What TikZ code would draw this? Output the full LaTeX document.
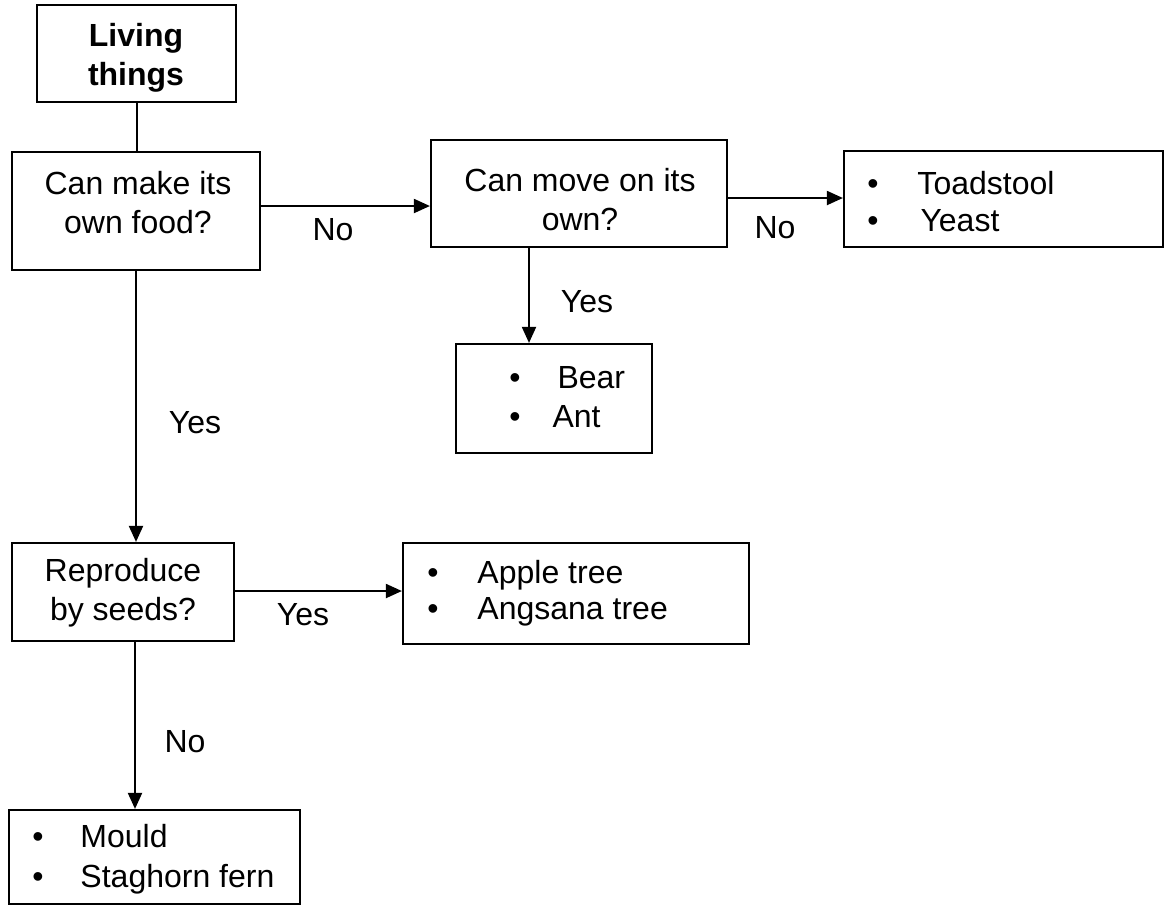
\documentclass[tikz,border=0pt]{standalone}
\usepackage{fontspec}
\setmainfont{Liberation Sans}
\usetikzlibrary{arrows.meta}
\newcommand\fsz[1]{\fontsize{16pt}{#1}\selectfont}
\begin{document}
\begin{tikzpicture}[x=0.5pt,y=-0.5pt,
  boxnode/.style={draw, line width=1.1pt, inner sep=0pt, rectangle},
  qtext/.style={align=center, inner sep=0pt, font=\fsz{19.5pt}},
  listtxt/.style={align=left, inner sep=0pt, anchor=west},
  lbl/.style={inner sep=0pt, font=\fsz{19.5pt}},
  conn/.style={line width=1pt},
  arr/.style={line width=1pt, -{Triangle[length=8pt,width=7pt]}}
]
\useasboundingbox (0,0) rectangle (1170,907);
\fill[white] (0,0) rectangle (1170,907);

% boxes
\node[boxnode, minimum width=99.5pt, minimum height=48.5pt] (living) at (136.5,53.5) {};
\node[boxnode, minimum width=124pt, minimum height=59pt] (food) at (136,211) {};
\node[boxnode, minimum width=148pt, minimum height=53.5pt] (move) at (579,193.5) {};
\node[boxnode, minimum width=159.5pt, minimum height=48pt] (toad) at (1003.5,199) {};
\node[boxnode, minimum width=98pt, minimum height=54.5pt] (bear) at (554,398.5) {};
\node[boxnode, minimum width=111pt, minimum height=49pt] (repro) at (123,592) {};
\node[boxnode, minimum width=173pt, minimum height=50.5pt] (apple) at (576,593.5) {};
\node[boxnode, minimum width=145.5pt, minimum height=47pt] (mould) at (154.5,857) {};

% question texts
\node[qtext] (livingT) at (136,57.5) {\bfseries Living\\\bfseries things};
\node[qtext] (foodT) at (138,203) {Can make its\\own food?};
\node[qtext] (moveT) at (580,200) {Can move on its\\own?};
\node[qtext] (reproT) at (123,593) {Reproduce\\by seeds?};

% lists
\node[listtxt, font=\fsz{18.5pt}] (toadL) at ([yshift=-1.25pt]toad.west)
  {\hspace*{12pt}•\hspace{19.5pt}Toadstool\\\hspace*{12pt}•\hspace{21pt}Yeast};
\node[listtxt, font=\fsz{19.5pt}] (bearL) at ([yshift=0.5pt]bear.west)
  {\hspace*{27pt}•\hspace{18.5pt}Bear\\\hspace*{27pt}•\hspace{16pt}Ant};
\node[listtxt, font=\fsz{18pt}] (appleL) at (apple.west)
  {\hspace*{12.5pt}•\hspace{19.5pt}Apple tree\\\hspace*{12.5pt}•\hspace{19.5pt}Angsana tree};
\node[listtxt, font=\fsz{20pt}] (mouldL) at ([yshift=-1.25pt]mould.west)
  {\hspace*{12pt}•\hspace{18.5pt}Mould\\\hspace*{12pt}•\hspace{18.5pt}Staghorn fern};

% connectors
\draw[conn] (living.south) -- (living.south |- food.north);
\draw[arr] ([yshift=2.5pt]food.east) -- ([yshift=-6.25pt]move.west);
\draw[arr] ([yshift=-2.25pt]move.east) -- ([yshift=0.5pt]toad.west);
\draw[arr] ([xshift=-25pt]move.south) -- ([xshift=-12.5pt]bear.north);
\draw[arr] (food.south) -- ([xshift=6.5pt]repro.north);
\draw[arr] ([yshift=0.5pt]repro.east) -- ([yshift=1.25pt]apple.west);
\draw[arr] ([xshift=6pt]repro.south) -- ([xshift=-9.75pt]mould.north);

% labels
\node[lbl] (noA) at (333,230) {No};
\node[lbl] (noB) at (775,228) {No};
\node[lbl] (yesA) at (587,302) {Yes};
\node[lbl] (yesB) at (195,423) {Yes};
\node[lbl] (yesC) at (303,615) {Yes};
\node[lbl] (noC) at (185,742) {No};
\end{tikzpicture}
\end{document}
